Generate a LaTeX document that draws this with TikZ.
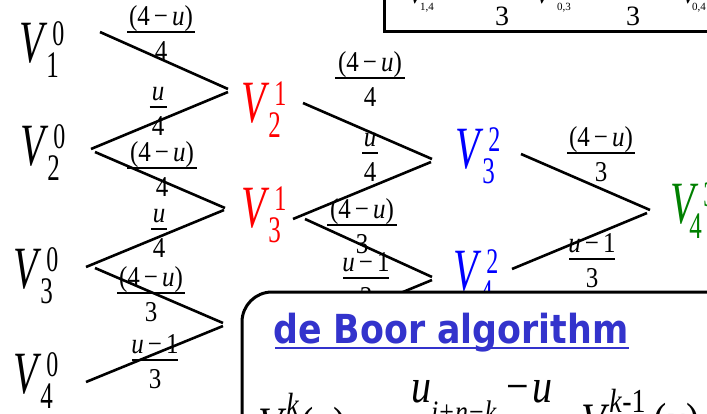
\documentclass[tikz,border=0pt]{standalone}
\usepackage{fontspec}
\setmainfont{Liberation Serif}
\newfontfamily\titlefont{DejaVu Sans}
\usetikzlibrary{calc}
\definecolor{titleblue}{RGB}{51,51,204}
\definecolor{vgreen}{RGB}{0,128,0}
\newcommand\Vlab[3][-1pt]{\scalebox{1}[1.5]{\fontsize{40}{40}\selectfont\textit{V}\rlap{\kern5pt\raisebox{11pt}{\fontsize{24}{24}\selectfont #3}}\kern#1\raisebox{-10pt}{\fontsize{25}{25}\selectfont #2}}}
\newcommand\sy[1]{\scalebox{1}[1.15]{#1}}
\newcommand\NumFour{(4\kern4pt−\kern4pt\textit{u})}
\newcommand\NumU{\textit{u}}
\newcommand\NumUone{\textit{u}\kern4pt−\kern4pt1}
\newcommand\Frac[6]{%
 \node[fnum] (#1n) at (#2,#3-7) {\sy{#5}};
 \draw[fbar] (#2-#4,#3) -- (#2+#4,#3);
 \node[fnum] (#1d) at (#2,#3+28) {\sy{#6}};}
\tikzset{
 fnum/.style={anchor=base, inner sep=0pt, font=\fontsize{25}{25}\selectfont},
 fbar/.style={line width=1.2pt},
 edge/.style={line width=2.6pt},
 vlab/.style={anchor=base west, inner sep=0pt},
 frame/.style={line width=3pt, fill=white},
 small/.style={anchor=base west, inner sep=0pt, font=\fontsize{11}{11}\selectfont},
 big/.style={anchor=base west, inner sep=0pt, font=\fontsize{40}{40}\selectfont},
}
\begin{document}
\begin{tikzpicture}[x=1pt,y=-1pt]
\useasboundingbox (0,0) rectangle (707,413);
% labels V
\node[vlab] (v10) at (19,62) {\Vlab{1}{0}};
\node[vlab] (v20) at (20,165) {\Vlab{2}{0}};
\node[vlab] (v30) at (13,288) {\Vlab{3}{0}};
\node[vlab] (v40) at (13,393) {\Vlab{4}{0}};
\node[vlab, text=red] (v21) at (241,122) {\Vlab{2}{1}};
\node[vlab, text=red] (v31) at (241,227) {\Vlab{3}{1}};
\node[vlab, text=blue] (v32) at (455,168) {\Vlab{3}{2}};
\node[vlab, text=blue] (v42) at (453,290) {\Vlab{4}{2}};
\node[vlab, text=vgreen] (v43) at (670,223) {\Vlab[-9pt]{4}{3}};
% connector end points
\coordinate (s1) at (100,32);  \coordinate (e1) at (228,89);
\coordinate (s2) at (91,149);  \coordinate (e2) at (228,92);
\coordinate (s3) at (95,152);  \coordinate (e3) at (225,208);
\coordinate (s4) at (86,267);  \coordinate (e4) at (224,210);
\coordinate (s5) at (95,268);  \coordinate (e5) at (223,323);
\coordinate (s6) at (86,382);  \coordinate (e6) at (223,326);
\coordinate (s7) at (303,103); \coordinate (e7) at (432,159);
\coordinate (s8) at (293,219); \coordinate (e8) at (431,162);
\coordinate (s9) at (305,219); \coordinate (e9) at (432,277);
\coordinate (s10) at (294,337); \coordinate (e10) at (432,280);
\coordinate (s11) at (521,154); \coordinate (e11) at (650,210);
\coordinate (s12) at (512,269); \coordinate (e12) at (647,213);
\foreach \i in {1,...,12} {\draw[edge] (s\i) -- (e\i);}
% weights
\Frac{f1}{161}{32}{34}{\NumFour}{4}
\Frac{f2}{158}{107}{8.5}{\NumU}{4}
\Frac{f3}{162}{168}{35}{\NumFour}{4}
\Frac{f4}{159}{229}{8}{\NumU}{4}
\Frac{f5}{151}{293}{34}{\NumFour}{3}
\Frac{f6}{155}{360}{23}{\NumUone}{3}
\Frac{f7}{370}{78}{35}{\NumFour}{4}
\Frac{f8}{370}{153}{8}{\NumU}{4}
\Frac{f9}{362}{225}{35}{\NumFour}{3}
\Frac{f10}{366}{278}{23}{\NumUone}{3}
\Frac{f11}{601}{153}{34}{\NumFour}{3}
\Frac{f12}{592}{259}{23}{\NumUone}{3}
% top box
\draw[frame] (384,-20) rectangle (730,31);
\node[anchor=base west, inner sep=0pt, font=\fontsize{28}{28}\selectfont] (tv1) at (407,3) {\textit{V}};
\node[anchor=base west, inner sep=0pt, font=\fontsize{28}{28}\selectfont] (tv2) at (534,3) {\textit{V}};
\node[anchor=base west, inner sep=0pt, font=\fontsize{28}{28}\selectfont] (tv3) at (680,3) {\textit{V}};
\node[small] (ts1) at (420,10) {1,4};
\node[small] (ts2) at (557,10) {0,3};
\node[small] (ts3) at (692,10) {0,4};
\node[anchor=base, inner sep=0pt, font=\fontsize{28}{28}\selectfont] (t3a) at (502,25) {3};
\node[anchor=base, inner sep=0pt, font=\fontsize{28}{28}\selectfont] (t3b) at (633,25) {3};
% bottom box
\draw[frame, rounded corners=30pt] (242,292) rectangle (760,480);
\node[anchor=base west, inner sep=0pt, text=titleblue, font=\fontsize{40}{40}\selectfont\titlefont\bfseries] (title) at (273,343) {\scalebox{0.87}[1]{de Boor algorithm}};
\draw[titleblue, line width=2.5pt] ($(title.base west)+(2,5)$) -- ($(title.base east)+(0,5)$);
\node[big] (lhs) at (258,440) {\scalebox{1}[1.2]{\textit{V}\rlap{\raisebox{20pt}{\fontsize{28}{28}\selectfont\textit{k}}}\raisebox{-8pt}{\fontsize{28}{28}\selectfont\textit{i}}\kern6pt(\textit{u})\kern10pt=}};
\node[big] (numer) at (411,402) {\scalebox{1}[1.2]{\textit{u}\raisebox{-17pt}{\fontsize{26}{26}\selectfont\textit{i}\kern1pt+\kern1pt\textit{n}\kern1pt−\kern1pt\textit{k}}\kern10pt−\kern3pt\textit{u}}};
\node[big] (rhs) at (581,436) {\scalebox{1}[1.2]{\textit{V}\raisebox{20pt}{\fontsize{28}{28}\selectfont\textit{k}-1}\kern8pt(\textit{u})}};
\end{tikzpicture}
\end{document}
